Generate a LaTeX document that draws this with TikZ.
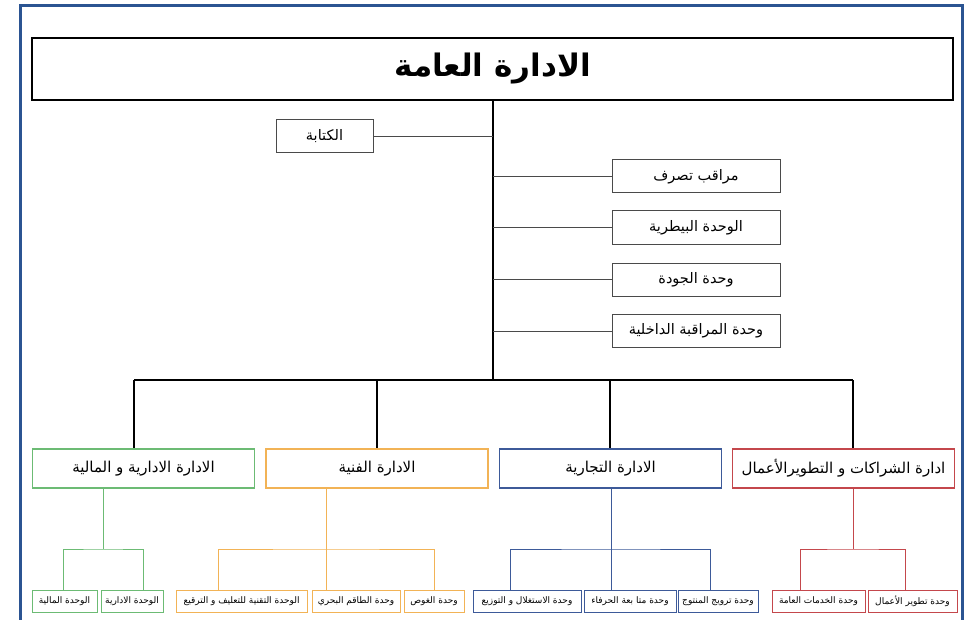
\documentclass[tikz,border=0pt]{standalone}
\usepackage{fontspec}
\setmainfont{DejaVu Sans}
\newfontfamily\arabicfont[Script=Arabic]{DejaVu Sans}
\TeXXeTstate=1
\usetikzlibrary{shadows}
\definecolor{framebl}{HTML}{2B5492}
\definecolor{grn}{HTML}{6CBB74}
\definecolor{org}{HTML}{F2B356}
\definecolor{blu}{HTML}{3D5A99}
\definecolor{rd}{HTML}{C4474C}
\definecolor{dgray}{HTML}{4A4A4A}
\newcommand{\artxt}[1]{{\arabicfont\beginR #1\endR}}
\tikzset{
  base/.style={draw, rectangle, inner sep=0pt, anchor=center, fill=white},
  topbox/.style={base, line width=2.2pt, draw=black, minimum width=921pt, minimum height=62pt,
     font=\fontsize{31}{35}\bfseries, drop shadow={opacity=0.35, shadow xshift=1pt, shadow yshift=-1.5pt}},
  sidebox/.style={base, line width=1pt, draw=dgray, minimum height=33pt, font=\fontsize{14.5}{16}\selectfont},
  deptbox/.style={base, line width=1.6pt, minimum width=222pt, minimum height=39pt, font=\fontsize{15}{17}\selectfont},
  unitbox/.style={base, line width=1pt, minimum height=22pt, font=\fontsize{9}{10}\selectfont},
  trunk/.style={line width=1.6pt, draw=black},
  thin/.style={line width=0.9pt, draw=dgray},
  cl/.style={line width=1pt}
}
\begin{document}
\begin{tikzpicture}[x=1pt,y=-1pt]
\useasboundingbox (0,0) rectangle (968,620);
\fill[white] (0,0) rectangle (968,620);
% outer frame
\draw[framebl, line width=3pt] (20,620) -- (20,5.5) -- (962,5.5) -- (962,620);

% top
\node[topbox] (top) at (492.5,69) {\artxt{الادارة العامة}};

% side boxes
\node[sidebox, minimum width=97pt] (kat) at (324.5,136.5) {\artxt{الكتابة}};
\node[sidebox, minimum width=168pt] (r1) at (696,176.5) {\artxt{مراقب تصرف}};
\node[sidebox, minimum width=168pt] (r2) at (696,227.5) {\artxt{الوحدة البيطرية}};
\node[sidebox, minimum width=168pt] (r3) at (696,279.5) {\artxt{وحدة الجودة}};
\node[sidebox, minimum width=168pt] (r4) at (696,331) {\artxt{وحدة المراقبة الداخلية}};

% departments
\node[deptbox, draw=grn] (dg) at (143.5,468.5) {\artxt{الادارة الادارية و المالية}};
\node[deptbox, draw=org] (do) at (377,468.5) {\artxt{الادارة الفنية}};
\node[deptbox, draw=blu] (db) at (610.5,468.5) {\artxt{الادارة التجارية}};
\node[deptbox, draw=rd] (dr) at (843.5,468.5) {\artxt{ادارة الشراكات و التطويرالأعمال}};

% units
\node[unitbox, draw=grn, minimum width=65pt] (g1) at (64.5,601) {\artxt{الوحدة المالية}};
\node[unitbox, draw=grn, minimum width=62pt] (g2) at (132,601) {\artxt{الوحدة الادارية}};
\node[unitbox, draw=org, minimum width=131pt] (o1) at (241.5,601) {\artxt{الوحدة التقنية للتعليف و الترقيع}};
\node[unitbox, draw=org, minimum width=88pt] (o2) at (356,601) {\artxt{وحدة الطاقم البحري}};
\node[unitbox, draw=org, minimum width=60pt] (o3) at (434,601) {\artxt{وحدة الغوص}};
\node[unitbox, draw=blu, minimum width=108pt] (b1) at (527,601) {\artxt{وحدة الاستغلال و التوزيع}};
\node[unitbox, draw=blu, minimum width=92pt] (b2) at (630,601) {\artxt{وحدة متا بعة الحرفاء}};
\node[unitbox, draw=blu, minimum width=80pt] (b3) at (718,601) {\artxt{وحدة ترويج المنتوج}};
\node[unitbox, draw=rd, minimum width=93pt] (r5) at (818.5,601) {\artxt{وحدة الخدمات العامة}};
\node[unitbox, draw=rd, minimum width=89pt] (r6) at (912.5,601) {\artxt{وحدة تطوير الأعمال}};

% trunk and bus
\coordinate (bus) at (493,380);
\coordinate (busL) at (134,380);
\coordinate (busR) at (853,380);
\coordinate (busO) at (377,380);
\coordinate (busB) at (610,380);
\draw[trunk] (top.south -| bus) -- (bus);
\draw[trunk] (busL) -- (busR);
\draw[trunk] (busL) -- (busL |- dg.north);
\draw[trunk] (busO) -- (busO |- do.north);
\draw[trunk] (busB) -- (busB |- db.north);
\draw[trunk] (busR) -- (busR |- dr.north);

% side connectors
\draw[thin] (kat.east) -- (kat.east -| bus);
\foreach \n in {r1,r2,r3,r4} \draw[thin] (\n.west) -- (\n.west -| bus);

% green group
\coordinate (gd) at (103,488);
\coordinate (gh) at (103,549);
\draw[cl, grn] (gd) -- (gh);
\draw[cl, grn] (g1.north -| 63,0) |- (gh) -| (g2.north -| 143,0);
% orange group
\coordinate (od) at (326,488);
\coordinate (oh) at (326,549);
\draw[cl, org] (od) -- (od |- o2.north);
\draw[cl, org] (o1.north -| 218,0) |- (oh) -| (o3.north);
% blue group
\coordinate (bd) at (611,488);
\coordinate (bh) at (611,549);
\draw[cl, blu] (bd) -- (bd |- b2.north);
\draw[cl, blu] (b1.north -| 510,0) |- (bh) -| (b3.north -| 710,0);
% red group
\coordinate (rdd) at (853,488);
\coordinate (rh) at (853,549);
\draw[cl, rd] (rdd) -- (rh);
\draw[cl, rd] (r5.north -| 800,0) |- (rh) -| (r6.north -| 905,0);
\end{tikzpicture}
\end{document}
